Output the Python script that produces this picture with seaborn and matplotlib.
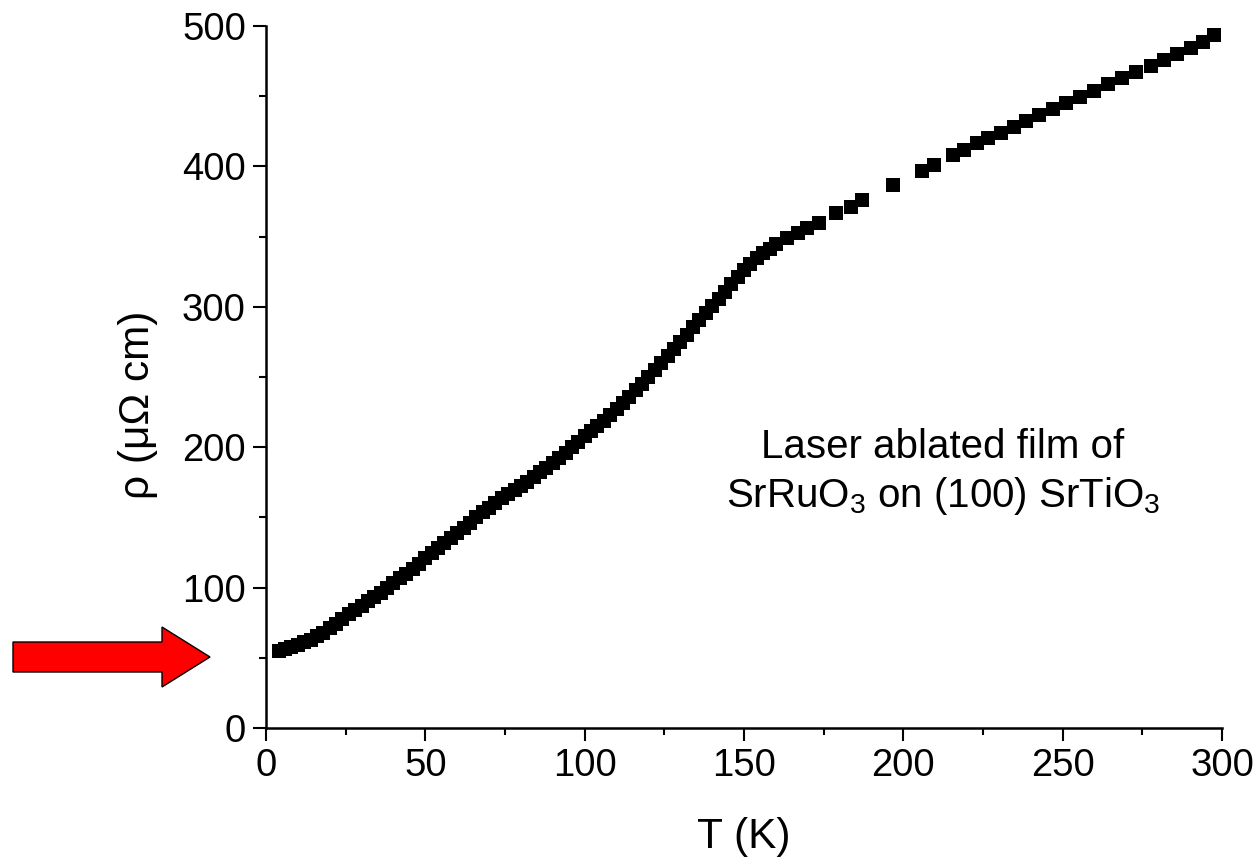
import matplotlib
matplotlib.use("Agg")
import matplotlib.pyplot as plt
import seaborn as sns
import pandas as pd
from matplotlib.patches import FancyArrow
from matplotlib.ticker import MultipleLocator

# ---- data ----
T_K = [4, 6, 8, 10, 12, 14, 16, 18, 20, 22, 24, 26, 28, 30, 32, 34, 36, 38, 40,
       42, 44, 46, 48, 50, 52, 54, 56, 58, 60, 62, 64, 66, 68, 70, 72, 74, 76, 78,
       80, 82, 84, 86, 88, 90, 92, 94, 96, 98, 100, 102, 104, 106, 108, 110, 112,
       114, 116, 118, 120, 122, 124, 126, 128, 130, 132, 134, 136, 138, 140, 142,
       144, 146, 148, 150, 152, 154, 156, 158, 160, 163.6, 166.8, 169.9, 173.6,
       178.8, 183.5, 187.1, 196.6, 206.0, 209.6, 215.5, 219.1, 223.0, 226.7, 230.6,
       234.6, 238.6, 242.6, 246.8, 251.0, 255.5, 259.9, 264.3, 268.6, 273.1, 277.6,
       281.8, 286.0, 290.2, 294.0, 297.5]
rho_uOhm_cm = [55.0, 56.0, 57.5, 59.0, 61.0, 63.0, 65.5, 68.0, 71.0, 74.0, 77.5, 81.0,
               84.0, 87.0, 90.5, 93.5, 96.5, 99.5, 103.0, 106.5, 110.0, 113.5, 117.0,
               121.0, 124.5, 128.0, 132.0, 135.5, 139.0, 142.5, 146.0, 150.0, 153.5,
               157.0, 160.5, 163.5, 166.5, 169.5, 172.5, 175.5, 178.5, 182.0, 185.5,
               189.0, 192.5, 196.0, 200.0, 204.0, 208.0, 211.5, 215.0, 219.0, 223.0,
               227.0, 231.5, 236.0, 240.5, 245.0, 250.0, 255.0, 260.0, 265.0, 270.0,
               275.0, 280.0, 285.5, 290.5, 295.5, 300.5, 305.5, 310.5, 316.0, 321.0,
               326.0, 330.5, 334.5, 338.0, 341.5, 344.5, 348.8, 352.3, 355.9, 359.5,
               366.6, 371.3, 376.0, 386.7, 397.0, 401.0, 408.1, 411.7, 416.4, 420.0,
               424.0, 428.3, 432.6, 436.6, 440.7, 444.9, 449.7, 453.9, 458.7, 462.7,
               467.5, 471.5, 475.8, 480.1, 484.1, 488.8, 493.6]
x_ticks = [0, 50, 100, 150, 200, 250, 300]
y_ticks = [0, 100, 200, 300, 400, 500]
x_label = "T (K)"
y_label = "ρ (μΩ cm)"
note_lines = ["Laser ablated film of", "SrRuO$_3$ on (100) SrTiO$_3$"]

df = pd.DataFrame({"T": T_K, "rho": rho_uOhm_cm})

sns.set_theme(style="ticks")
plt.rcParams["font.family"] = ["Liberation Sans", "DejaVu Sans"]
plt.rcParams["mathtext.fontset"] = "custom"
plt.rcParams["mathtext.rm"] = "Liberation Sans"
plt.rcParams["mathtext.it"] = "Liberation Sans"

fig = plt.figure(figsize=(12.57, 8.6), dpi=100)
ax = fig.add_axes([0.2116, 0.1535, 0.7606, 0.8163])

sns.scatterplot(data=df, x="T", y="rho", marker="s", color="black", s=90,
                linewidth=0, ax=ax, legend=False)

ax.set_xlim(0, 300)
ax.set_ylim(0, 500)
ax.set_xticks(x_ticks)
ax.set_yticks(y_ticks)
ax.xaxis.set_minor_locator(MultipleLocator(25))
ax.yaxis.set_minor_locator(MultipleLocator(50))
ax.tick_params(axis="both", which="major", direction="out", length=9.5, width=1.5,
               labelsize=27.5, color="black", labelcolor="black", pad=5)
ax.tick_params(axis="both", which="minor", direction="out", length=5, width=1.5,
               color="black")
for side in ["top", "right"]:
    ax.spines[side].set_visible(False)
for side in ["left", "bottom"]:
    ax.spines[side].set_linewidth(1.8)
    ax.spines[side].set_color("black")

ax.set_xlabel(x_label, fontsize=30.5, color="black")
ax.set_ylabel(y_label, fontsize=30.5, color="black")
ax.xaxis.set_label_coords(0.5, -0.127)
ax.yaxis.set_label_coords(-0.113, 0.46)

ax.text(0.708, 0.385, note_lines[0], transform=ax.transAxes, fontsize=29,
        ha="center", va="baseline", color="black")
ax.text(0.708, 0.315, note_lines[1], transform=ax.transAxes, fontsize=29,
        ha="center", va="baseline", color="black")

# red arrow pointing to the residual resistivity
W, H = 1257, 860
arrow = FancyArrow(13 / W, 1 - 657 / H, (162 - 13) / W, 0,
                   width=30 / H, head_width=60 / H, head_length=48 / W,
                   length_includes_head=False, transform=fig.transFigure,
                   facecolor="#ff0000", edgecolor="black", linewidth=1.0)
fig.patches.append(arrow)

fig.savefig("out.png", dpi=100, facecolor="white")
